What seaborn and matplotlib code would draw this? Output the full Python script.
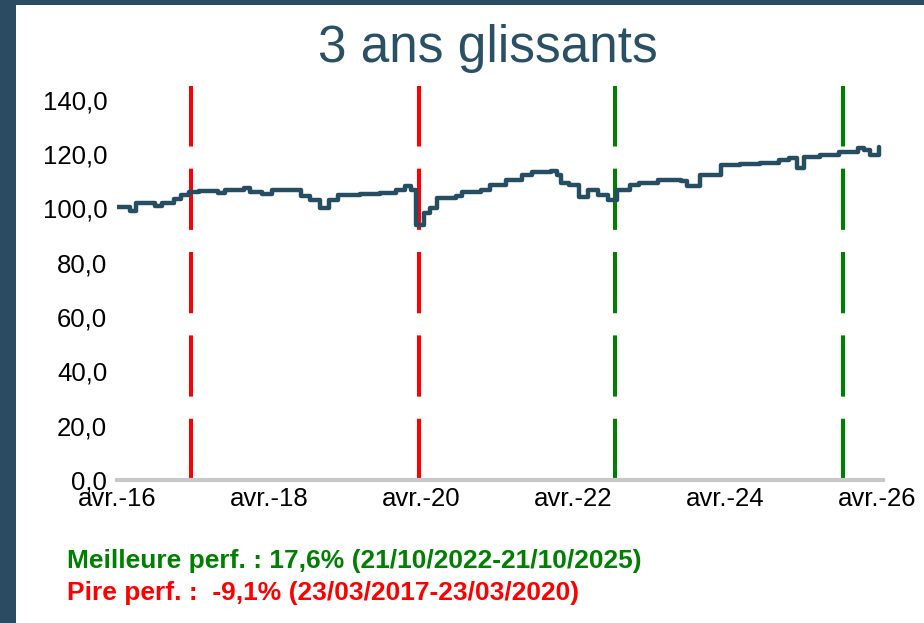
import pandas as pd
import seaborn as sns
import matplotlib.pyplot as plt
from matplotlib.patches import Rectangle

# values (base 100)
dates = ['2016-04-01', '2016-06-01', '2016-07-01', '2016-09-01', '2016-10-01', '2016-11-01',
         '2017-01-01', '2017-02-01', '2017-03-15', '2017-05-01', '2017-08-01', '2017-09-01',
         '2017-12-01', '2018-01-01', '2018-03-01', '2018-04-15', '2018-07-15', '2018-09-01',
         '2018-10-15', '2018-12-01', '2019-01-15', '2019-03-01', '2019-06-15', '2019-09-15',
         '2019-12-01', '2020-01-15', '2020-02-15', '2020-03-10', '2020-04-15', '2020-05-15',
         '2020-06-15', '2020-09-15', '2020-10-15', '2021-01-15', '2021-03-01', '2021-05-15',
         '2021-08-01', '2021-09-15', '2021-12-15', '2022-01-15', '2022-02-01', '2022-03-15',
         '2022-05-01', '2022-06-15', '2022-08-01', '2022-09-15', '2022-11-01', '2023-01-01',
         '2023-02-15', '2023-05-15', '2023-09-01', '2023-10-01', '2023-12-01', '2024-03-15',
         '2024-06-15', '2024-09-15', '2024-12-15', '2025-02-01', '2025-03-15', '2025-04-15',
         '2025-07-01', '2025-10-01', '2026-01-01', '2026-02-01', '2026-03-01', '2026-04-10']
values = [100.6, 99.0, 102.0, 102.0, 100.8, 102.0,
          103.5, 105.0, 106.0, 106.2, 105.7, 106.8,
          107.5, 106.0, 105.4, 106.8, 106.8, 104.6,
          103.0, 100.2, 103.0, 105.0, 105.4, 105.7,
          106.8, 108.3, 106.8, 94.0, 98.4, 100.2,
          103.9, 104.6, 106.0, 106.8, 108.7, 110.5,
          112.4, 113.5, 113.8, 112.4, 109.4, 108.7,
          104.3, 106.8, 105.0, 103.2, 106.8, 108.7,
          109.4, 110.5, 110.0, 108.3, 112.4, 116.0,
          116.4, 116.8, 117.9, 118.6, 115.0, 119.0,
          119.7, 120.8, 122.3, 121.6, 119.7, 122.7]

best_period = ['2022-10-21', '2025-10-21']
worst_period = ['2017-03-23', '2020-03-23']

tick_dates = ['2016-04-01', '2018-04-01', '2020-04-01', '2022-04-01', '2024-04-01', '2026-04-01']
tick_labels = ['avr.-16', 'avr.-18', 'avr.-20', 'avr.-22', 'avr.-24', 'avr.-26']
y_ticks = [0, 20, 40, 60, 80, 100, 120, 140]
y_labels = ['0,0', '20,0', '40,0', '60,0', '80,0', '100,0', '120,0', '140,0']

df = pd.DataFrame({'date': pd.to_datetime(dates), 'valeur': values})

sns.set_style('white')
plt.rcParams['font.family'] = ['Liberation Sans', 'DejaVu Sans']

navy = '#264e63'
fig = plt.figure(figsize=(9.24, 6.23), dpi=100)
fig.patch.set_facecolor('#2a4b62')
fig.patches.append(Rectangle((16 / 924, 0), 1, 618 / 623, transform=fig.transFigure,
                             facecolor='white', edgecolor='none', zorder=-10))

ax = fig.add_axes([117 / 924, 143 / 623, 766 / 924, 394 / 623])
ax.set_facecolor('none')
ax.set_zorder(1)

# lignes verticales des periodes
for d in worst_period:
    ax.axvline(pd.to_datetime(d), color='#ff0000', lw=2.9, dashes=(15.2, 5.5), zorder=1)
for d in best_period:
    ax.axvline(pd.to_datetime(d), color='#008000', lw=2.9, dashes=(15.2, 5.5), zorder=1)

sns.lineplot(data=df, x='date', y='valeur', ax=ax, color=navy, linewidth=3.2,
             drawstyle='steps-post', estimator=None, zorder=3)

ax.set_xlim(pd.to_datetime('2016-04-01'), pd.to_datetime('2026-05-01'))
ax.set_ylim(0, 145)
ax.set_xticks(pd.to_datetime(tick_dates))
ax.set_xticklabels(tick_labels)
ax.set_yticks(y_ticks)
ax.set_yticklabels(y_labels)
ax.set_xlabel('')
ax.set_ylabel('')
ax.tick_params(axis='both', length=0, labelsize=18.5, colors='black')
ax.tick_params(axis='y', pad=7)
ax.tick_params(axis='x', pad=5)
for s in ['left', 'top', 'right']:
    ax.spines[s].set_visible(False)
ax.spines['bottom'].set_color('#c8c8c8')
ax.spines['bottom'].set_linewidth(3)

fig.text(488 / 924, 1 - 62 / 623, '3 ans glissants', ha='center', va='baseline',
         fontsize=37, color='#2a5066')
fig.text(67 / 924, 1 - 568 / 623, 'Meilleure perf. : 17,6% (21/10/2022-21/10/2025)',
         ha='left', va='baseline', fontsize=19, fontweight='bold', color='#008000')
fig.text(67 / 924, 1 - 600 / 623, 'Pire perf. :  -9,1% (23/03/2017-23/03/2020)',
         ha='left', va='baseline', fontsize=19, fontweight='bold', color='#ff0000')

fig.savefig('out.png', dpi=100, facecolor=fig.get_facecolor())
